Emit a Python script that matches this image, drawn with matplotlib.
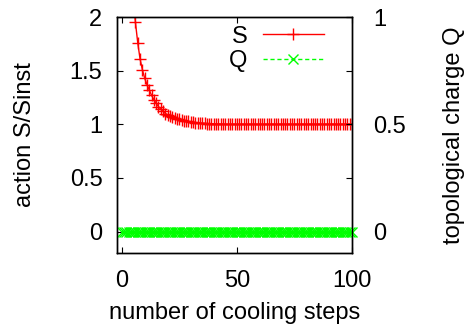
import numpy as np, matplotlib; matplotlib.use("Agg")
import matplotlib.pyplot as plt

plt.rcParams["font.family"] = ["Liberation Sans", "DejaVu Sans"]
plt.rcParams["font.size"] = 17

# cooling history: action in units of the instanton action, and topological charge
steps_S = np.arange(5, 101)
action_S = [2.20, 1.95, 1.76, 1.61, 1.51, 1.43, 1.37, 1.32, 1.27, 1.23,
            1.195, 1.165, 1.14, 1.12, 1.10, 1.09, 1.08, 1.07, 1.06, 1.052,
            1.045, 1.04, 1.035, 1.03, 1.026, 1.022, 1.019, 1.016, 1.014, 1.012,
            1.010, 1.008, 1.007, 1.006, 1.005, 1.004, 1.003, 1.003, 1.002, 1.002] + [1.0] * 56
steps_Q = np.arange(0, 101)
charge_Q = [0.0] * 101

fig = plt.figure(figsize=(4.65, 3.26), dpi=100)
ax = fig.add_axes([117/465, 1-253/326, 235/465, 236/326])
ax2 = ax.twinx()

lS, = ax.plot(steps_S, action_S, "-", color="#ff0000", lw=1, marker="+", ms=8, mew=1, clip_on=True)
lQ, = ax2.plot(steps_Q, charge_Q, "--", color="#00ff00", lw=1, marker="x", ms=7.5, mew=1, clip_on=False,
               dashes=(3, 2))

ax.set_xlim(-2, 100); ax.set_ylim(-0.2, 2)
ax2.set_ylim(-0.1, 1)
ax.set_xticks([0, 50, 100]); ax.set_yticks([0, 0.5, 1, 1.5, 2])
ax.set_yticklabels(["0", "0.5", "1", "1.5", "2"])
ax2.set_yticks([0, 0.5, 1]); ax2.set_yticklabels(["0", "0.5", "1"])

ax.tick_params(axis="both", direction="in", length=4, width=0.8, top=True, right=True)
ax.tick_params(axis="y", pad=10.5)
ax.tick_params(axis="x", pad=12)
ax2.tick_params(axis="y", direction="in", length=4, width=0.8, pad=15)
for a in (ax, ax2):
    for s in a.spines.values(): s.set_linewidth(1)

ax.set_xlabel("number of cooling steps", labelpad=7.5)
ax.set_ylabel("action S/Sinst", labelpad=24)
ax2.set_ylabel("topological charge Q", labelpad=27)

leg = ax.legend([lS, lQ], ["S", "Q"], loc="upper right", bbox_to_anchor=(0.951, 1.033),
                frameon=False, markerfirst=False, handlelength=2.6, handletextpad=0.63,
                labelspacing=0.1, borderaxespad=0.3)
for t in leg.get_texts(): t.set_ha("right")

fig.savefig("out.png", dpi=100)
